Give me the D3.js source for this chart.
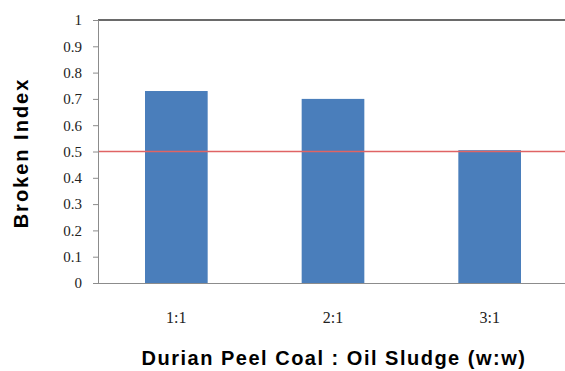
<!DOCTYPE html>
<html>
<head>
<meta charset="utf-8">
<script src="https://cdn.jsdelivr.net/npm/d3@7"></script>
<style>
  body { margin: 0; background: #fff; }
  svg { display: block; }
</style>
</head>
<body>
<div id="chart"></div>
<script>
// data
var ratios = ["1:1", "2:1", "3:1"];
var brokenIndex = [0.73, 0.70, 0.505];
var yTicks = [0, 0.1, 0.2, 0.3, 0.4, 0.5, 0.6, 0.7, 0.8, 0.9, 1];
var refLevel = 0.5;

var width = 565, height = 371;
var margin = { top: 20, right: -3, bottom: 88, left: 98 };

var svg = d3.select("#chart").append("svg")
  .attr("width", width)
  .attr("height", height);

var xScale = d3.scaleBand()
  .domain(ratios)
  .range([margin.left, width - margin.right])
  .paddingInner(0.6)
  .paddingOuter(0.3);

var yScale = d3.scaleLinear()
  .domain([0, 1])
  .range([height - margin.bottom, margin.top]);

// bars
svg.selectAll("rect.bar")
  .data(brokenIndex)
  .enter().append("rect")
  .attr("class", "bar")
  .attr("x", (d, i) => xScale(ratios[i]))
  .attr("width", xScale.bandwidth())
  .attr("y", d => yScale(d))
  .attr("height", d => yScale(0) - yScale(d))
  .attr("fill", "#4a7ebb");

// red reference line
svg.append("line")
  .attr("x1", margin.left)
  .attr("x2", width)
  .attr("y1", yScale(refLevel))
  .attr("y2", yScale(refLevel))
  .attr("stroke", "#e06464")
  .attr("stroke-width", 1.5);

// top border
svg.append("line")
  .attr("x1", margin.left)
  .attr("x2", width)
  .attr("y1", yScale(1))
  .attr("y2", yScale(1))
  .attr("stroke", "#6a6a6a")
  .attr("stroke-width", 2);

// y axis
var yAxis = svg.append("g")
  .attr("transform", `translate(${margin.left},0)`)
  .call(d3.axisLeft(yScale).tickValues(yTicks).tickSize(5).tickPadding(11)
    .tickFormat(d => d3.format("")(+d.toFixed(1))));
yAxis.select(".domain").attr("stroke", "#8c8c8c");
yAxis.selectAll(".tick line").attr("stroke", "#8c8c8c");
yAxis.selectAll("text")
  .style("font-family", "'Liberation Serif', serif")
  .style("font-size", "15px")
  .attr("fill", "#222");

// x axis
var xAxis = svg.append("g")
  .attr("transform", `translate(0,${yScale(0)})`)
  .call(d3.axisBottom(xScale).tickSize(0).tickPadding(29));
xAxis.select(".domain").attr("stroke", "#8c8c8c").attr("d", `M${margin.left - 5},0.5H${width}`);
xAxis.selectAll("text")
  .style("font-family", "'Liberation Serif', serif")
  .style("font-size", "16px")
  .attr("fill", "#222");

// axis titles
svg.append("text")
  .attr("x", 334)
  .attr("y", 365)
  .attr("text-anchor", "middle")
  .style("font-family", "'Liberation Sans', Arial, sans-serif")
  .style("font-weight", "bold")
  .style("font-size", "20px")
  .style("letter-spacing", "1.5px")
  .text("Durian Peel Coal : Oil Sludge (w:w)");

svg.append("text")
  .attr("transform", "rotate(-90)")
  .attr("x", -153)
  .attr("y", 28)
  .attr("text-anchor", "middle")
  .style("font-family", "'Liberation Sans', Arial, sans-serif")
  .style("font-weight", "bold")
  .style("font-size", "20px")
  .style("letter-spacing", "2px")
  .text("Broken Index");
</script>
</body>
</html>
